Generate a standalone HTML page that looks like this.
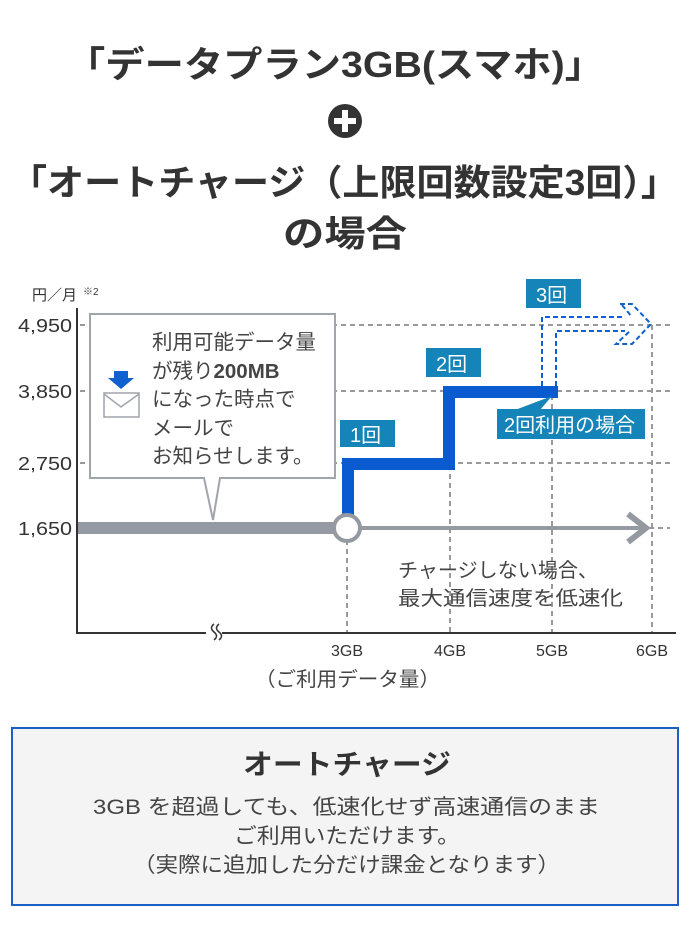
<!DOCTYPE html>
<html><head><meta charset="utf-8"><style>
html,body{margin:0;padding:0;background:#fff;}
svg{display:block;}
text{font-family:"Liberation Sans","Noto Sans CJK JP",sans-serif;}
</style></head><body>
<svg width="690" height="950" viewBox="0 0 690 950" xmlns="http://www.w3.org/2000/svg">
<g fill="#333" font-weight="bold" font-size="36" text-anchor="start">
<text x="66" y="77" textLength="538" lengthAdjust="spacingAndGlyphs">「データプラン3GB(スマホ)」</text>
<text x="10" y="195" textLength="668" lengthAdjust="spacingAndGlyphs">「オートチャージ（上限回数設定3回）」</text>
<text x="283" y="246" textLength="124" lengthAdjust="spacingAndGlyphs">の場合</text>
</g>
<circle cx="345" cy="121" r="17" fill="#333"/>
<rect x="342" y="110" width="6" height="22" fill="#fff"/>
<rect x="334" y="118" width="22" height="6" fill="#fff"/>

<g stroke="#999" stroke-width="2" stroke-dasharray="5,4" fill="none">
<line x1="80" y1="325" x2="670" y2="325"/>
<line x1="80" y1="391" x2="670" y2="391"/>
<line x1="80" y1="463" x2="670" y2="463"/>
<line x1="640" y1="528" x2="670" y2="528"/>
<line x1="347" y1="540" x2="347" y2="633"/>
<line x1="450" y1="465" x2="450" y2="633"/>
<line x1="552" y1="395" x2="552" y2="633"/>
<line x1="652" y1="325" x2="652" y2="633"/>
</g>
<line x1="77" y1="308" x2="77" y2="634" stroke="#333" stroke-width="2"/>
<line x1="76" y1="633" x2="676" y2="633" stroke="#333" stroke-width="2"/>
<rect x="206" y="626" width="16" height="14" fill="#fff"/>
<path d="M214 624 q-5 4 0 8 q5 4 0 8 M219 624 q-5 4 0 8 q5 4 0 8" stroke="#333" stroke-width="1.5" fill="none"/>

<g fill="#333" font-size="18">
<text x="32" y="300" font-size="15">円／月</text><text x="83" y="295" font-size="10">※2</text>
<text x="18" y="332" textLength="54" lengthAdjust="spacingAndGlyphs">4,950</text>
<text x="18" y="398" textLength="54" lengthAdjust="spacingAndGlyphs">3,850</text>
<text x="18" y="470" textLength="54" lengthAdjust="spacingAndGlyphs">2,750</text>
<text x="18" y="535" textLength="54" lengthAdjust="spacingAndGlyphs">1,650</text>
</g>
<g fill="#333" font-size="16">
<text x="347" y="656" text-anchor="middle">3GB</text>
<text x="450" y="656" text-anchor="middle">4GB</text>
<text x="552" y="656" text-anchor="middle">5GB</text>
<text x="652" y="656" text-anchor="middle">6GB</text>
</g>
<text x="255" y="686" fill="#444" font-size="20" textLength="185" lengthAdjust="spacingAndGlyphs">（ご利用データ量）</text>
<g fill="#444" font-size="20">
<text x="398" y="577" textLength="200" lengthAdjust="spacingAndGlyphs">チャージしない場合、</text>
<text x="398" y="605" textLength="225" lengthAdjust="spacingAndGlyphs">最大通信速度を低速化</text>
</g>

<rect x="78" y="522" width="258" height="12" fill="#959aa2"/>
<line x1="360" y1="528" x2="644" y2="528" stroke="#959aa2" stroke-width="4"/>
<path d="M628 514 L646 528 L628 542" stroke="#959aa2" stroke-width="6" fill="none"/>

<path d="M90 314 H335 V478 H220 L213 520 L204 478 H90 Z" fill="#fff" stroke="#a0a4ab" stroke-width="2"/>
<rect x="114" y="371" width="14" height="8" fill="#1060d0"/>
<path d="M108 378 H134 L121 389 Z" fill="#1060d0"/>
<rect x="104" y="393" width="35" height="24" fill="#fff" stroke="#a0a4ab" stroke-width="1.5"/>
<path d="M104 394 L121 407 L139 394" stroke="#a0a4ab" stroke-width="1.5" fill="none"/>
<g fill="#444" font-size="20.5">
<text x="152" y="349">利用可能データ量</text>
<text x="152" y="378">が残り<tspan font-weight="bold">200MB</tspan></text>
<text x="152" y="406">になった時点で</text>
<text x="152" y="435">メールで</text>
<text x="152" y="463">お知らせします。</text>
</g>

<path d="M348 520 V464 H449 V392 H558" stroke="#0b5bd0" stroke-width="12" fill="none" stroke-linejoin="miter"/>
<circle cx="347" cy="528" r="13" fill="#fff" stroke="#959aa2" stroke-width="4"/>
<g stroke="#1060d0" stroke-width="2" stroke-dasharray="5,3" fill="none">
<path d="M542 386 V317 H625"/>
<path d="M556 386 V331 H625"/>
<path d="M620 304 L632 304 L651 324 L632 344 L616 344 L630 331"/>
<path d="M622 305 L632 317"/>
</g>

<g fill="#1585b9">
<rect x="340" y="420" width="55" height="27"/>
<rect x="426" y="348" width="55" height="29"/>
<rect x="526" y="279" width="55" height="29"/>
<rect x="497" y="409" width="148" height="30"/>
<path d="M515 410 L552 396 L540 410 Z"/>
</g>
<g fill="#fff" font-size="20">
<text x="350" y="442">1回</text>
<text x="436" y="371">2回</text>
<text x="536" y="302">3回</text>
<text x="504" y="432">2回利用の場合</text>
</g>

<rect x="12" y="728" width="666" height="177" fill="#f4f4f4" stroke="#1a5fc8" stroke-width="2"/>
<text x="243" y="774" fill="#333" font-size="28" font-weight="bold" textLength="208" lengthAdjust="spacingAndGlyphs">オートチャージ</text>
<g fill="#444" font-size="21">
<text x="93" y="814" textLength="507" lengthAdjust="spacingAndGlyphs">3GB を超過しても、低速化せず高速通信のまま</text>
<text x="234" y="843" textLength="226" lengthAdjust="spacingAndGlyphs">ご利用いただけます。</text>
<text x="133" y="872" textLength="427" lengthAdjust="spacingAndGlyphs">（実際に追加した分だけ課金となります）</text>
</g>
</svg>
</body></html>
